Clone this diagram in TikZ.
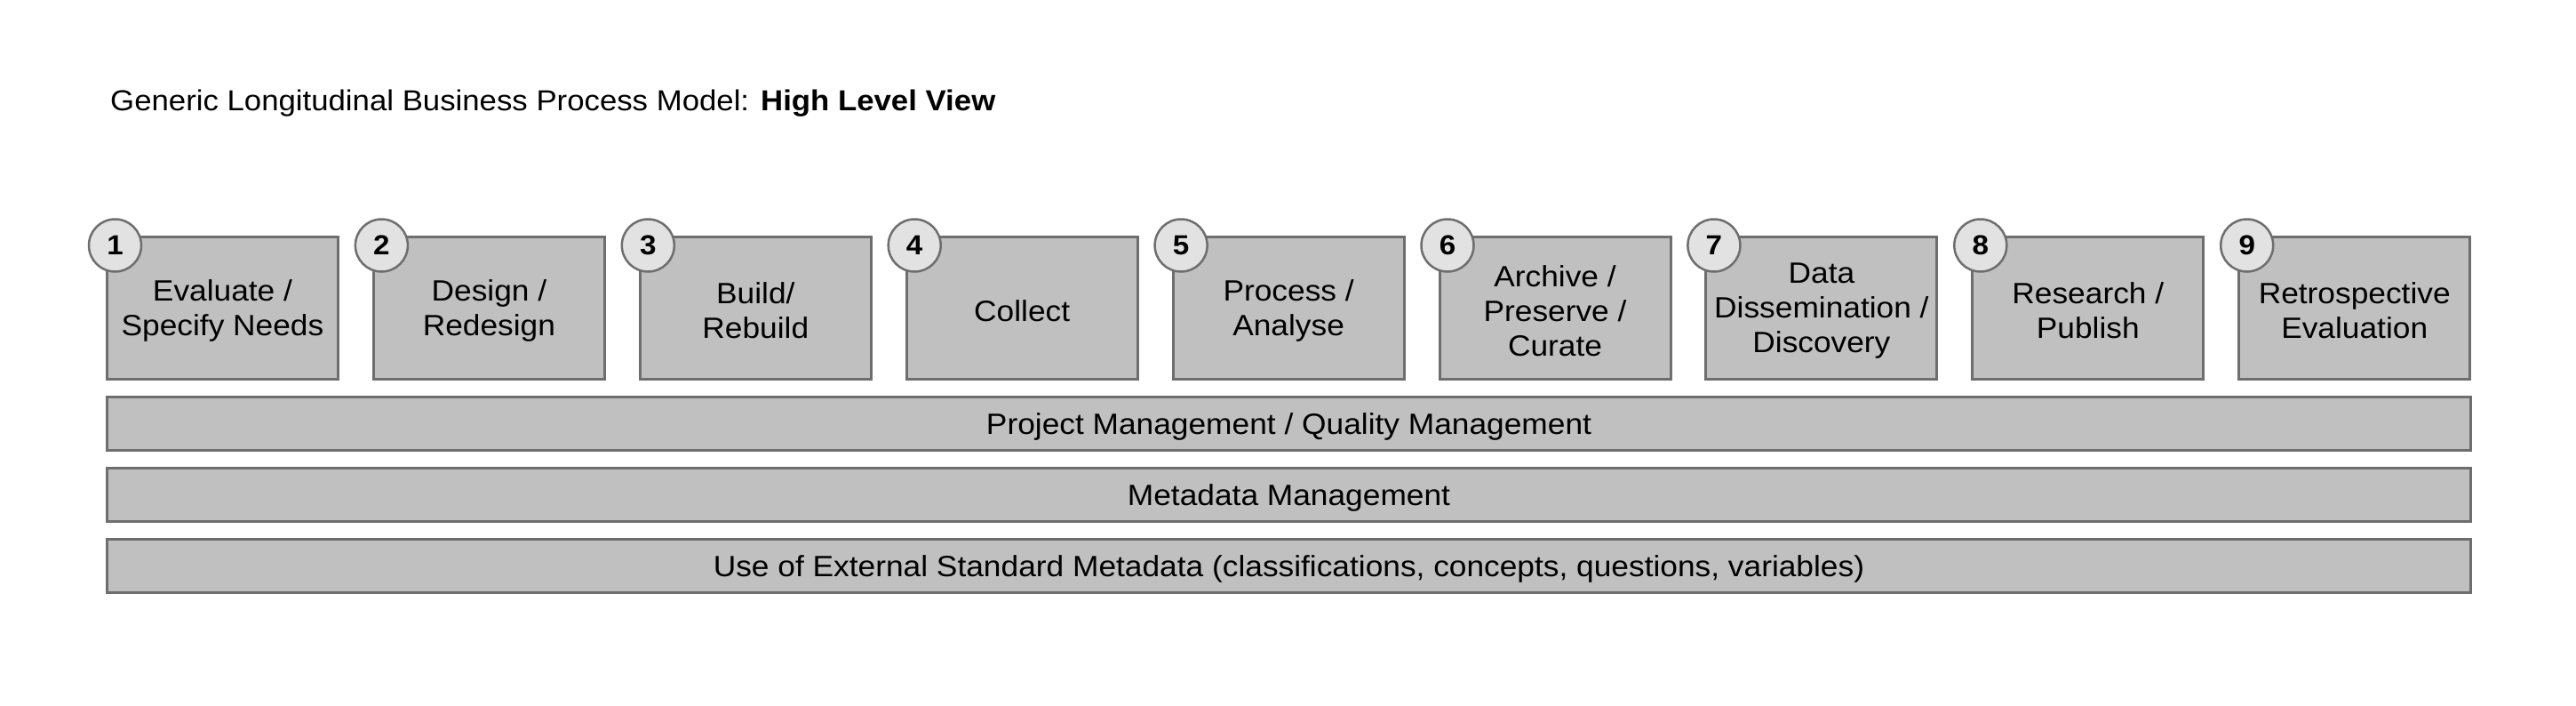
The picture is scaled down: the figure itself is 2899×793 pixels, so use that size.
\documentclass[tikz,border=0pt]{standalone}
\usepackage{fontspec}
\setmainfont{Liberation Sans}[FakeStretch=1.07]
\definecolor{boxgray}{HTML}{C0C0C0}
\definecolor{bordergray}{HTML}{6E6E6E}
\definecolor{circgray}{HTML}{E2E2E2}
\tikzset{
  stepbox/.style={draw=bordergray, fill=boxgray, line width=3pt, minimum width=260pt, minimum height=160pt, inner sep=0pt, anchor=north west},
  steptext/.style={inner sep=0pt, align=center, font=\fontsize{33}{39}\selectfont},
  numcirc/.style={circle, draw=bordergray, fill=circgray, line width=2.5pt, minimum size=59pt, inner sep=0pt, font=\fontsize{31}{31}\selectfont\bfseries},
  barbox/.style={draw=bordergray, fill=boxgray, line width=3pt, minimum width=2660pt, minimum height=60pt, inner sep=0pt, anchor=north west},
  bartext/.style={inner sep=0pt, font=\fontsize{33}{38}\selectfont}
}
\begin{document}
\begin{tikzpicture}[x=1pt,y=-1pt]
\useasboundingbox[fill=white] (0,0) rectangle (2899,793);
\node[anchor=base west, inner sep=0pt, font=\fontsize{32.5}{38}\selectfont] (title) at (124,124) {Generic Longitudinal Business Process Model: \textbf{High Level View}};
\foreach \i/\t in {1/{Evaluate /\\Specify Needs},2/{Design /\\Redesign},3/{Build/\\Rebuild},4/{Collect},5/{Process /\\Analyse},6/{Archive /\\Preserve /\\Curate},7/{Data\\Dissemination /\\Discovery},8/{Research /\\Publish},9/{Retrospective\\Evaluation}}{
  \pgfmathsetmacro{\lx}{119+299.9*(\i-1)}
  \node[stepbox] (b\i) at (\lx,265) {};
  \node[steptext] (t\i) at ([yshift=-3pt]b\i.center) {\t};
  \node[numcirc] (n\i) at ([xshift=10.5pt,yshift=-11pt]b\i.north west) {\i};
}
\node[barbox] (pm) at (119,445) {};
\node[bartext] (pmt) at ([yshift=-3.5pt]pm.center) {Project Management / Quality Management};
\node[barbox] (mm) at (119,525) {};
\node[bartext] (mmt) at ([yshift=-3.5pt]mm.center) {Metadata Management};
\node[barbox] (ext) at (119,605) {};
\node[bartext] (extt) at ([yshift=-3.5pt]ext.center) {Use of External Standard Metadata (classifications, concepts, questions, variables)};
\end{tikzpicture}
\end{document}
